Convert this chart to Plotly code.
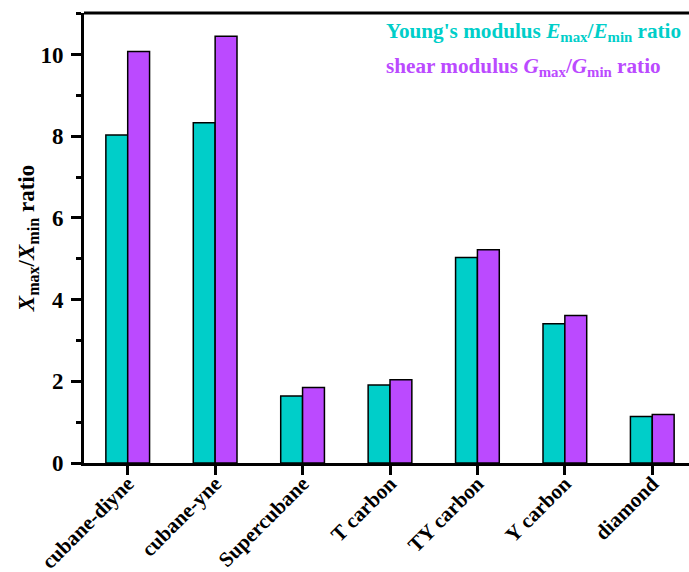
import plotly.graph_objects as go

categories = ["cubane-diyne", "cubane-yne", "Supercubane", "T carbon", "TY carbon", "Y carbon", "diamond"]
young_ratio = [8.03, 8.33, 1.64, 1.91, 5.03, 3.41, 1.14]
shear_ratio = [10.08, 10.45, 1.85, 2.04, 5.22, 3.61, 1.19]
y_ticks = [0, 2, 4, 6, 8, 10]

teal = "rgb(0,206,201)"
purple = "rgb(187,74,255)"
font = "Liberation Serif, Times New Roman, serif"

fig = go.Figure()
fig.add_trace(go.Bar(x=categories, y=young_ratio, marker=dict(color=teal, line=dict(color="black", width=1.5)),
                     name="Young's modulus"))
fig.add_trace(go.Bar(x=categories, y=shear_ratio, marker=dict(color=purple, line=dict(color="black", width=1.5)),
                     name="shear modulus"))

fig.update_layout(
    width=689, height=572,
    margin=dict(l=84, r=0, t=13, b=109),
    plot_bgcolor="white", paper_bgcolor="white",
    barmode="group", bargap=0.5, bargroupgap=0,
    showlegend=False,
    font=dict(family=font, color="black"),
)
fig.update_xaxes(
    range=[-0.5, 6.42], showline=True, linecolor="black", linewidth=3, mirror=False,
    ticks="outside", ticklen=9, tickwidth=3, tickcolor="black",
    tickangle=-45, tickfont=dict(family=font, size=21, color="black", weight="bold"),
    ticklabelstandoff=-12,
    showgrid=False, zeroline=False, automargin=False,
)
fig.update_yaxes(
    range=[0, 11.02], showline=True, linecolor="black", linewidth=3,
    ticks="outside", ticklen=10, tickwidth=3, tickcolor="black",
    tickvals=y_ticks, tickfont=dict(family=font, size=23, color="black", weight="bold"),
    ticklabelstandoff=3,
    minor=dict(dtick=1, ticks="outside", ticklen=5, tickwidth=3, tickcolor="black"),
    showgrid=False, zeroline=False, automargin=False,
    title=dict(text="<b><i>X</i><sub>max</sub>/<i>X</i><sub>min</sub> ratio</b>",
               font=dict(family=font, size=23, color="black"), standoff=0),
)
# top frame line
fig.add_shape(type="line", xref="paper", yref="paper", x0=0, x1=1, y0=1, y1=1,
              line=dict(color="black", width=3))

legend_x = (384 - 84) / (689 - 84)
fig.add_annotation(xref="paper", yref="paper", x=legend_x, xanchor="left", y=1, yshift=-19,
                   yanchor="middle", showarrow=False, align="left",
                   text="<b>Young's modulus <i>E</i><sub>max</sub>/<i>E</i><sub>min</sub> ratio</b>",
                   font=dict(family=font, size=21.2, color=teal))
fig.add_annotation(xref="paper", yref="paper", x=legend_x, xanchor="left", y=1, yshift=-54,
                   yanchor="middle", showarrow=False, align="left",
                   text="<b>shear modulus <i>G</i><sub>max</sub>/<i>G</i><sub>min</sub> ratio</b>",
                   font=dict(family=font, size=21.2, color=purple))

fig.write_html("out.html")
